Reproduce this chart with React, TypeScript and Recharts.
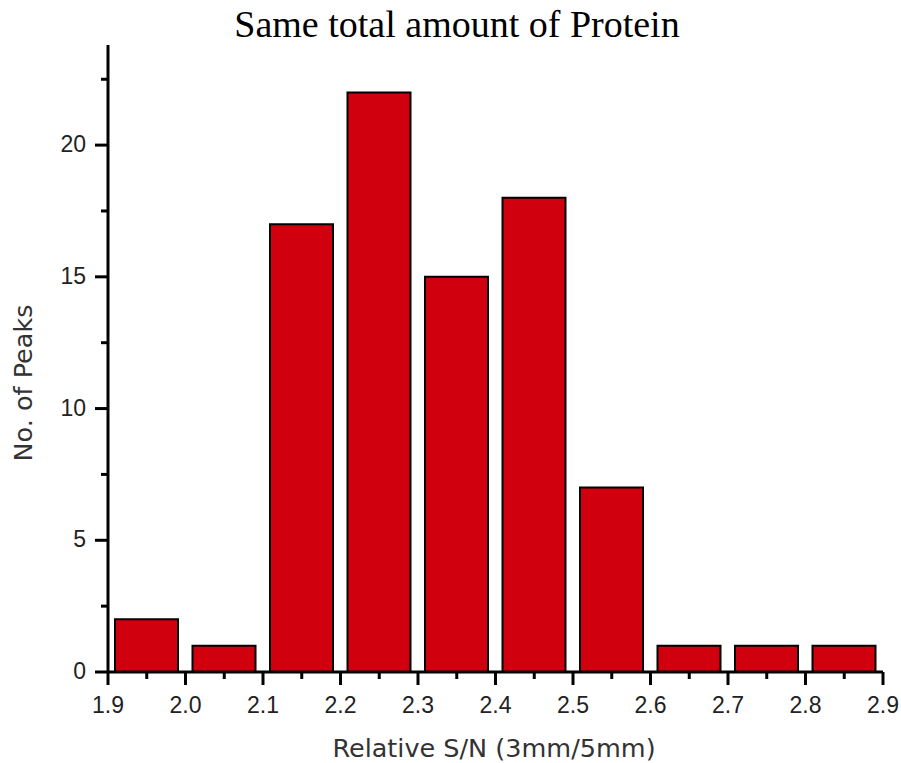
import { ComposedChart, Bar, XAxis, YAxis } from 'recharts'

const BIN_CENTERS = [1.95, 2.05, 2.15, 2.25, 2.35, 2.45, 2.55, 2.65, 2.75, 2.85]
const PEAK_COUNTS = [2, 1, 17, 22, 15, 18, 7, 1, 1, 1]
const X_TICKS = [1.9, 1.95, 2.0, 2.05, 2.1, 2.15, 2.2, 2.25, 2.3, 2.35, 2.4, 2.45, 2.5, 2.55, 2.6, 2.65, 2.7, 2.75, 2.8, 2.85, 2.9]
const Y_TICKS = [0, 2.5, 5, 7.5, 10, 12.5, 15, 17.5, 20, 22.5]

const data = BIN_CENTERS.map((x, i) => ({ x, count: PEAK_COUNTS[i] }))

const isMajor = (v: number, step: number) => Math.abs(v / step - Math.round(v / step)) < 1e-6

const TICK_FONT = '"Liberation Sans", Arial, sans-serif'
const LABEL_FONT = '"DejaVu Sans", Verdana, sans-serif'

function XTick({ x, y, payload }: any) {
  const major = isMajor(payload.value, 0.1)
  return (
    <g>
      <line x1={x} x2={x} y1={y} y2={y + (major ? 13 : 7)} stroke="#000" strokeWidth={3} />
      {major && (
        <text x={x} y={y + 41} textAnchor="middle" fontSize={23} fontFamily={TICK_FONT} fill="#222">
          {payload.value.toFixed(1)}
        </text>
      )}
    </g>
  )
}

function YTick({ x, y, payload }: any) {
  const major = isMajor(payload.value, 5)
  return (
    <g>
      <line x1={x} x2={x - (major ? 13 : 7)} y1={y} y2={y} stroke="#000" strokeWidth={3} />
      {major && (
        <text x={x - 22} y={y + 7} textAnchor="end" fontSize={23} fontFamily={TICK_FONT} fill="#222">
          {payload.value}
        </text>
      )}
    </g>
  )
}

export default function App() {
  return (
    <div style={{ position: 'absolute', left: 0, top: 0, width: 901, height: 763, background: '#fff' }}>
      <ComposedChart width={901} height={763} data={data} margin={{ top: 45, right: 18, bottom: 51, left: 48 }}>
        <XAxis
          dataKey="x"
          type="number"
          domain={[1.9, 2.9]}
          ticks={X_TICKS}
          interval={0}
          tick={<XTick />}
          tickLine={false}
          tickSize={0}
          tickMargin={0}
          height={40}
          axisLine={{ stroke: '#000', strokeWidth: 3 }}
          allowDataOverflow
        />
        <YAxis
          type="number"
          domain={[0, 23.8]}
          ticks={Y_TICKS}
          interval={0}
          tick={<YTick />}
          tickLine={false}
          tickSize={0}
          tickMargin={0}
          width={60}
          axisLine={{ stroke: '#000', strokeWidth: 3 }}
          allowDataOverflow
        />
        <Bar dataKey="count" barSize={63} fill="#d0000e" stroke="#000" strokeWidth={2} isAnimationActive={false} />
      </ComposedChart>
      <svg width={901} height={763} style={{ position: 'absolute', left: 0, top: 0, pointerEvents: 'none' }}>
        <text x={457} y={37} textAnchor="middle" fontSize={38} fontFamily='"Liberation Serif", "Times New Roman", serif' fill="#000">
          Same total amount of Protein
        </text>
        <text x={494} y={757} textAnchor="middle" fontSize={25.5} fontFamily={LABEL_FONT} fill="#333">
          Relative S/N (3mm/5mm)
        </text>
        <text x={32} y={383} textAnchor="middle" fontSize={25.5} fontFamily={LABEL_FONT} fill="#333" transform="rotate(-90 32 383)">
          No. of Peaks
        </text>
      </svg>
    </div>
  )
}
